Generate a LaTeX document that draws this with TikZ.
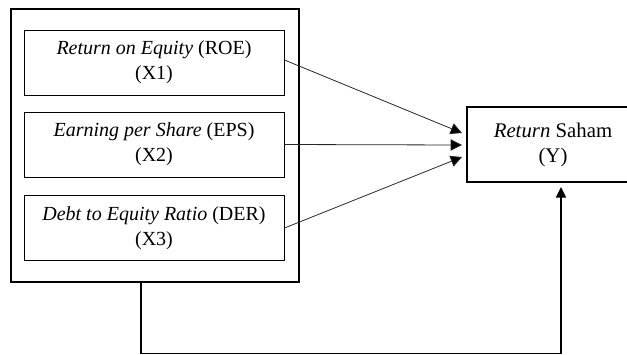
\documentclass[tikz,border=0pt]{standalone}
\usepackage{fontspec}
\setmainfont{Liberation Serif}
\usetikzlibrary{arrows.meta,calc}
\def\px{0.75pt}
\begin{document}
\begin{tikzpicture}[x=0.75pt,y=-0.75pt,
  every node/.style={font=\fontsize{15}{18.75}\selectfont, inner sep=0pt, align=center},
  varbox/.style={draw, line width=0.75pt, minimum width=260*\px, minimum height=65*\px},
  outerbox/.style={draw, line width=1.5pt, minimum width=288*\px, minimum height=273*\px},
  ybox/.style={draw, line width=1.5pt, minimum width=173*\px, minimum height=75*\px, font=\fontsize{15.6}{18.75}\selectfont},
  thinarrow/.style={line width=0.6pt, draw=black!85, -{Triangle[length=8.5pt,width=8.5pt,fill=black]}},
  thickarrow/.style={line width=1.4pt, -{Triangle[length=8pt,width=7.5pt]}}]
\path[clip] (0,0) rectangle (627,354);
\node[outerbox] (outer) at (155,145.5) {};
\node[varbox] (x1) at (154,62.5) {\textit{Return on Equity} (ROE)\\(X1)};
\node[varbox] (x2) at (154,144.5) {\textit{Earning per Share} (EPS)\\(X2)};
\node[varbox] (x3) at (154,228) {\textit{Debt to Equity Ratio} (DER)\\(X3)};
\node[ybox] (y) at (553,144.5) {\textit{Return} Saham\\(Y)};
\coordinate (t1) at (462,133);
\coordinate (t2) at (462,145);
\coordinate (t3) at (462,157);
\draw[thinarrow] (x1.east |- 0,60) -- (t1);
\draw[thinarrow] (x2.east) -- (t2);
\draw[thinarrow] (x3.east |- 0,228) -- (t3);
\coordinate (c1) at (141,353.5);
\coordinate (c2) at (561,353.5);
\coordinate (c3) at (561,187);
\draw[line width=1.4pt] (outer.south -| c1) -- (c1) -- (c2);
\draw[thickarrow] (c2) -- (c3);
\end{tikzpicture}
\end{document}
